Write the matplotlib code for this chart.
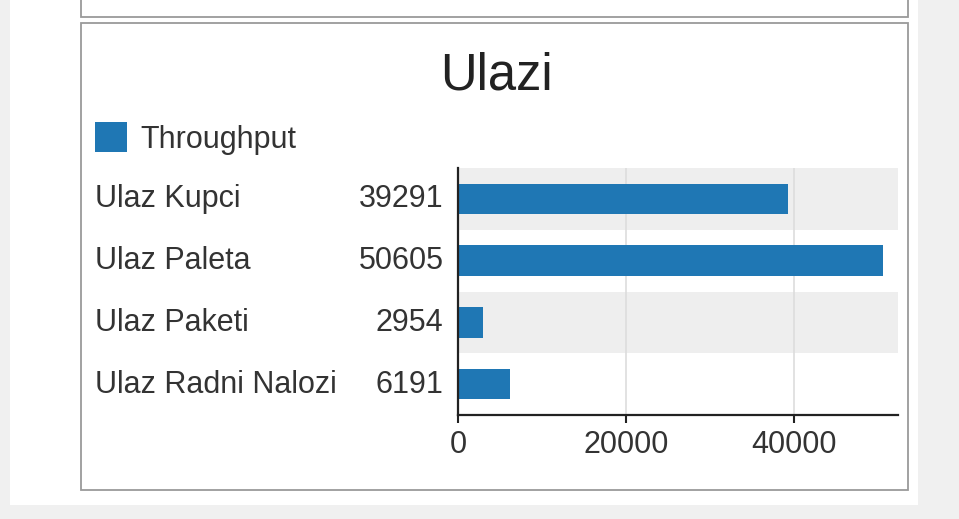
import matplotlib.pyplot as plt
from matplotlib.patches import Rectangle
from matplotlib.transforms import blended_transform_factory, offset_copy

plt.rcParams['font.family'] = ['Liberation Sans', 'DejaVu Sans']

# podaci
categories = ["Ulaz Kupci", "Ulaz Paleta", "Ulaz Paketi", "Ulaz Radni Nalozi"]
throughput = [39291, 50605, 2954, 6191]
xticks = [0, 20000, 40000]
title = "Ulazi"
series_name = "Throughput"

W, H = 959, 519
fig = plt.figure(figsize=(W / 100, H / 100), dpi=100, facecolor="#f0f0f0")


def fx(px):
    return px / W


def fy(py):
    return 1 - py / H


# pozadina stranice i okviri panela
fig.patches.append(Rectangle((fx(10), fy(505)), fx(918) - fx(10), fy(0) - fy(505),
                             transform=fig.transFigure, facecolor="white",
                             edgecolor="none", zorder=-10))
fig.patches.append(Rectangle((fx(81), fy(17)), fx(908) - fx(81), fy(-5) - fy(17),
                             transform=fig.transFigure, facecolor="white",
                             edgecolor="#9a9a9a", lw=1.3, zorder=-5))
fig.patches.append(Rectangle((fx(81), fy(490)), fx(908) - fx(81), fy(23) - fy(490),
                             transform=fig.transFigure, facecolor="white",
                             edgecolor="#9a9a9a", lw=1.3, zorder=-5))

ax = fig.add_axes([fx(458), fy(415), fx(898) - fx(458), fy(168) - fy(415)])
ax.set_facecolor("none")

pos = list(range(len(categories)))
for i in pos:
    if i % 2 == 0:
        ax.axhspan(i - 0.5, i + 0.5, color="#eeeeee", lw=0, zorder=0)

ax.barh(pos, throughput, height=0.49, color="#1f77b4", zorder=3,
        label=series_name)
ax.set_ylim(len(categories) - 0.5, -0.5)
ax.set_xlim(0, 52400)

ax.set_xticks(xticks)
ax.set_xticklabels([str(t) for t in xticks])
ax.xaxis.grid(True, color="#dddddd", lw=1.2, zorder=1)
ax.set_axisbelow(False)
ax.tick_params(axis="x", length=6, width=1.5, color="#222222",
               labelsize=22, labelcolor="#333333", pad=5)

ax.set_yticks(pos)
ax.set_yticklabels([str(v) for v in throughput])
ax.tick_params(axis="y", length=0, labelsize=22, labelcolor="#333333", pad=10.5)
for lab in ax.get_yticklabels():
    lab.set_transform(offset_copy(lab.get_transform(), fig=fig, y=3, units="dots"))

for s in ["top", "right"]:
    ax.spines[s].set_visible(False)
for s in ["left", "bottom"]:
    ax.spines[s].set_linewidth(1.6)
    ax.spines[s].set_color("#222222")
    ax.spines[s].set_zorder(5)

tr = blended_transform_factory(fig.transFigure, ax.transData)
tr = offset_copy(tr, fig=fig, y=3, units="dots")
for i, name in enumerate(categories):
    ax.text(fx(95), i, name, transform=tr, ha="left", va="center_baseline",
            fontsize=22, color="#333333")

fig.text(fx(496), fy(89), title, ha="center", va="baseline",
         fontsize=36.5, color="#222222")

leg = fig.legend(loc="upper left", bbox_to_anchor=(fx(95), fy(122)),
                 frameon=False, fontsize=22, handlelength=1.05, handleheight=1.15,
                 handletextpad=0.45, borderpad=0, borderaxespad=0)
for t in leg.get_texts():
    t.set_color("#333333")

fig.savefig("out.png", dpi=100, facecolor=fig.get_facecolor())
